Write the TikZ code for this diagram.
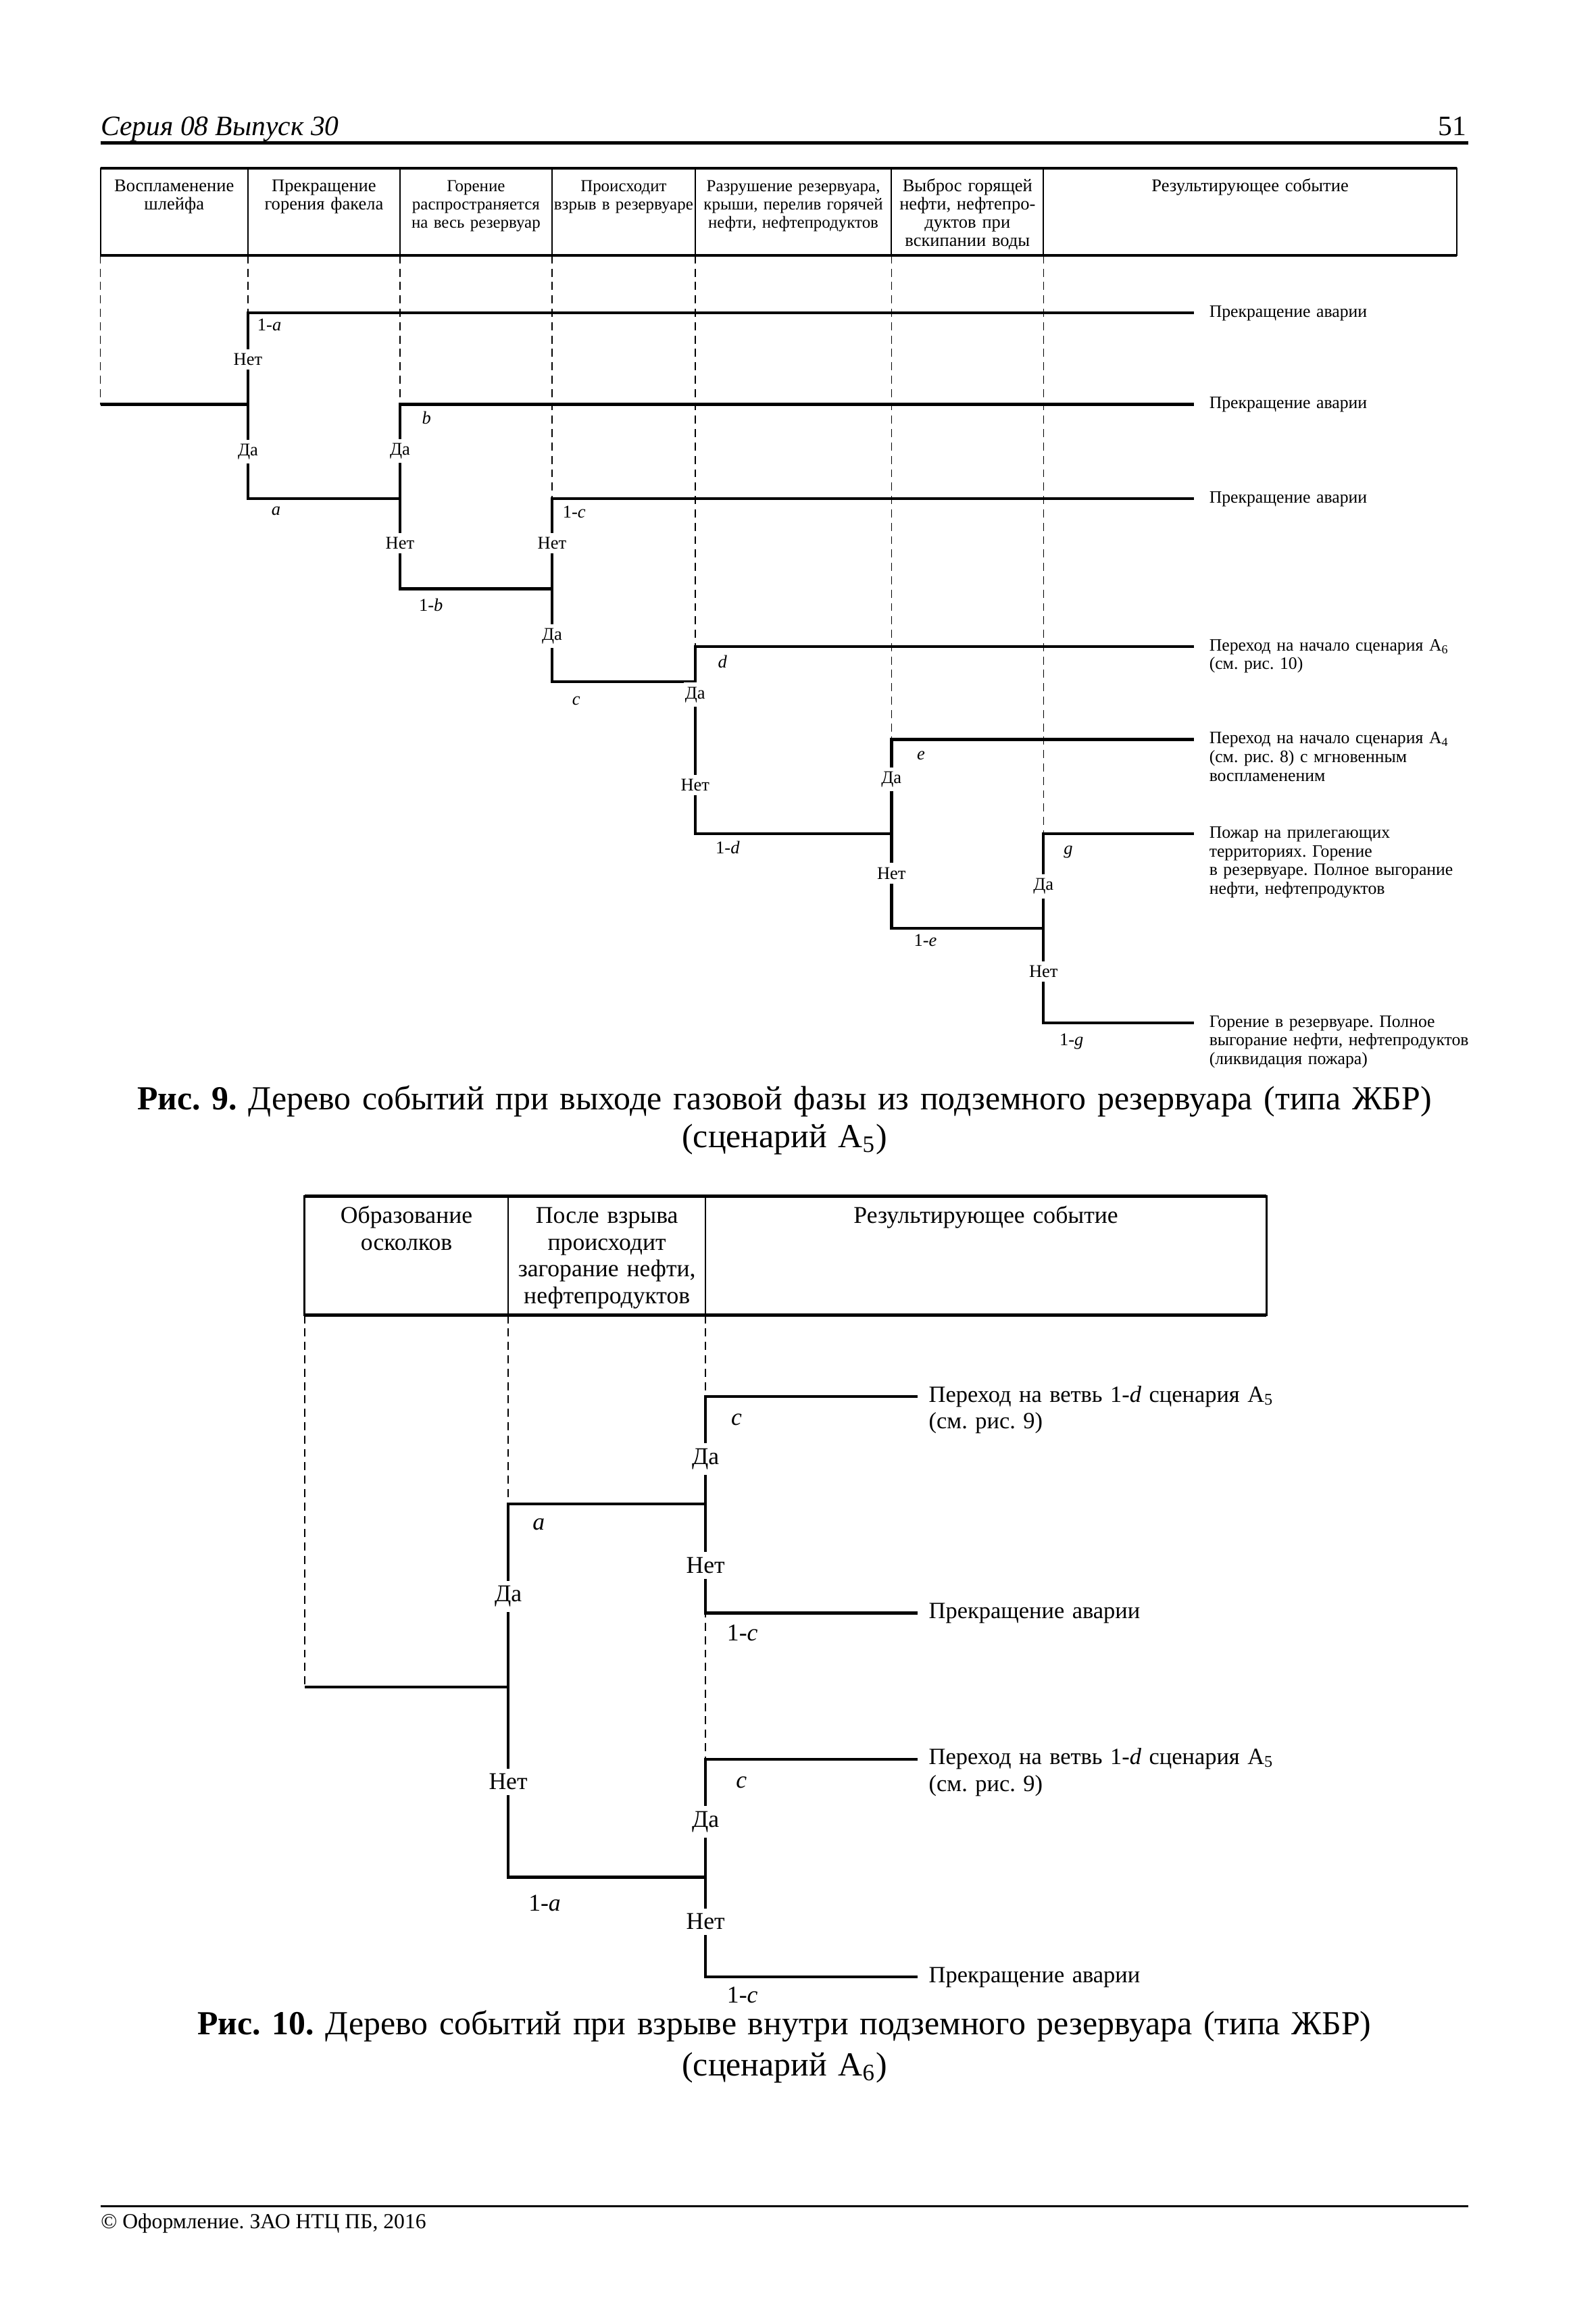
\documentclass[tikz,border=0pt]{standalone}
\usepackage{fontspec}
\setmainfont{Liberation Serif}
\usetikzlibrary{positioning}

\newcommand\figIXfont{\fontsize{6.7}{6.8}\selectfont}
\newcommand\figIXnarrow{\fontsize{6.3}{6.8}\selectfont}
\newcommand\figIXres{\fontsize{6.5}{7}\selectfont}
\newcommand\figXfont{\fontsize{9}{10}\selectfont}
\newcommand\figXres{\fontsize{8.7}{10}\selectfont}

\begin{document}
\frenchspacing
\begin{tikzpicture}[
  x=0.0194cm, y=-0.0194cm,
  tree/.style={line width=1.1pt},
  guide/.style={line width=0.4pt, dash pattern=on 3pt off 2pt},
  cell/.style={line width=0.5pt},
  ans/.style={fill=white, inner xsep=0.6pt, inner ysep=1.6pt},
  prob/.style={inner sep=0pt},
  hd/.style={anchor=base, align=center, inner sep=0pt, text width=3cm},
  res/.style={anchor=base west, align=left, inner sep=0pt, text width=5cm}
]
  \useasboundingbox (0,0) rectangle (1081,1568);

  % Running head
  \node[anchor=base west, inner sep=0pt, font=\fontsize{10.5}{12}\selectfont\itshape] (series) at (68,92) {Серия 08 Выпуск 30};
  \node[anchor=base east, inner sep=0pt, font=\fontsize{10.5}{12}\selectfont] (pageno) at (994,92) {51};
  \draw[line width=1.3pt] (68,97) -- (995,97);

  % ---------------- Fig. 9 ----------------
  \begin{scope}[font=\figIXfont]
  % header table
  \draw[cell] (68,114) rectangle (987,173);
  \draw[line width=1.1pt] (68,114) -- (987,114) (68,173) -- (987,173);
  \foreach \x in {168,271,374,471,604,707}
    \draw[cell] (\x,114) -- (\x,173);
  \node[hd] (h1) at (118,130) {Воспламенение\\шлейфа};
  \node[hd] (h2) at (219.5,130) {Прекращение\\горения факела};
  \node[hd, font=\figIXnarrow] (h3) at (322.5,130) {Горение\\распространяется\\на весь резервуар};
  \node[hd, font=\figIXnarrow] (h4) at (422.5,130) {Происходит\\взрыв в резервуаре};
  \node[hd, font=\figIXnarrow] (h5) at (537.5,130) {Разрушение резервуара,\\крыши, перелив горячей\\нефти, нефтепродуктов};
  \node[hd] (h6) at (655.5,130) {Выброс горящей\\нефти, нефтепро-\\дуктов при\\вскипании воды};
  \node[hd] (h7) at (847,130) {Результирующее событие};

  % branch points
  \coordinate (r9) at (68,274);
  \coordinate (A-t) at (168,212); \coordinate (A-b) at (168,338);
  \coordinate (B-t) at (271,274); \coordinate (B-b) at (271,399);
  \coordinate (C-t) at (374,338); \coordinate (C-b) at (374,462);
  \coordinate (D-t) at (471,438); \coordinate (D-b) at (471,565);
  \coordinate (E-t) at (604,501); \coordinate (E-b) at (604,629);
  \coordinate (G-t) at (707,565); \coordinate (G-b) at (707,693);
  \coordinate (end9) at (809,0);

  % guide lines
  \foreach \x/\y in {68/274,168/212,271/274,374/338,471/438,604/501,707/565}
    \draw[guide] (\x,173) -- (\x,\y);

  % tree
  \draw[tree] (r9) -- (A-t |- r9);
  \draw[tree] (A-t -| end9) -- (A-t) -- (A-b) -- (B-t |- A-b);
  \draw[tree] (B-t -| end9) -- (B-t) -- (B-b) -- (C-t |- B-b);
  \draw[tree] (C-t -| end9) -- (C-t) -- (C-b) -- (D-t |- C-b);
  \draw[tree] (D-t -| end9) -- (D-t) -- (D-b) -- (E-t |- D-b);
  \draw[tree] (E-t -| end9) -- (E-t) -- (E-b) -- (G-t |- E-b);
  \draw[tree] (G-t -| end9) -- (G-t) -- (G-b) -- (G-b -| end9);

  % yes / no
  \node[ans] (A-no) at (168,243.6) {Нет};
  \node[ans] (A-yes) at (168,306) {Да};
  \node[ans] (B-yes) at (271,305.6) {Да};
  \node[ans] (B-no) at (271,368) {Нет};
  \node[ans] (C-no) at (374,368) {Нет};
  \node[ans] (C-yes) at (374,431) {Да};
  \node[ans] (D-yes) at (471,470.7) {Да};
  \node[ans] (D-no) at (471,532) {Нет};
  \node[ans] (E-yes) at (604,528) {Да};
  \node[ans] (E-no) at (604,591.7) {Нет};
  \node[ans] (G-yes) at (707,600.5) {Да};
  \node[ans] (G-no) at (707,658.3) {Нет};

  % probabilities
  \node[prob] (pa1) at (182.5,220) {1-\textit{a}};
  \node[prob] (pa) at (187,346.5) {\textit{a}};
  \node[prob] (pb) at (289,283) {\textit{b}};
  \node[prob] (pb1) at (292,410) {1-\textit{b}};
  \node[prob] (pc1) at (389,347) {1-\textit{c}};
  \node[prob] (pc) at (390.4,474.8) {\textit{c}};
  \node[prob] (pd) at (489.5,448.6) {\textit{d}};
  \node[prob] (pd1) at (493,574.4) {1-\textit{d}};
  \node[prob] (pe) at (624,512) {\textit{e}};
  \node[prob] (pe1) at (627,637.3) {1-\textit{e}};
  \node[prob] (pg) at (723.8,577.4) {\textit{g}};
  \node[prob] (pg1) at (726,705.6) {1-\textit{g}};

  % outcomes
  \begin{scope}[font=\figIXres]
  \node[res] (o1) at (819,214.9) {Прекращение аварии};
  \node[res] (o2) at (819,276.9) {Прекращение аварии};
  \node[res] (o3) at (819,340.9) {Прекращение аварии};
  \node[res] (o4) at (819,440.9) {Переход на начало сценария A\textsubscript{6}\\(см. рис. 10)};
  \node[res] (o5) at (819,503.9) {Переход на начало сценария A\textsubscript{4}\\(см. рис. 8) с мгновенным\\воспламененим};
  \node[res] (o6) at (819,567.9) {Пожар на прилегающих\\территориях. Горение\\в резервуаре. Полное выгорание\\нефти, нефтепродуктов};
  \node[res] (o7) at (819,695.9) {Горение в резервуаре. Полное\\выгорание нефти, нефтепродуктов\\(ликвидация пожара)};
  \end{scope}
  \end{scope}

  \node[anchor=base, align=center, inner sep=0pt, text width=20cm, font=\fontsize{12.6}{14.2}\selectfont] (cap9) at (531.5,752)
    {\textbf{Рис. 9.} Дерево событий при выходе газовой фазы из подземного резервуара (типа ЖБР)\\(сценарий A\textsubscript{5})};

  % ---------------- Fig. 10 ----------------
  \begin{scope}[font=\figXfont]
  \draw[line width=0.8pt] (206.4,810.4) rectangle (858,891.2);
  \draw[line width=1.2pt] (206.4,810.4) -- (858,810.4) (206.4,891.2) -- (858,891.2);
  \foreach \x in {344.3,478}
    \draw[cell] (\x,810.4) -- (\x,891.2);
  \node[hd] (k1) at (275.4,829) {Образование\\осколков};
  \node[hd] (k2) at (411.2,829) {После взрыва\\происходит\\загорание нефти,\\нефтепродуктов};
  \node[hd, text width=6cm] (k3) at (668,829) {Результирующее событие};

  \coordinate (r10) at (206.4,1143);
  \coordinate (P-t) at (344.3,1019); \coordinate (P-b) at (344.3,1272);
  \coordinate (Q-t) at (478,946.4); \coordinate (Q-b) at (478,1093);
  \coordinate (S-t) at (478,1192); \coordinate (S-b) at (478,1339.6);
  \coordinate (end10) at (621.5,0);

  % guide lines
  \foreach \x/\y in {206.4/1143,344.3/1019,478/1192}
    \draw[guide] (\x,891.2) -- (\x,\y);

  % tree
  \draw[tree] (r10) -- (P-t |- r10);
  \draw[tree] (P-b -| S-t) -- (P-b) -- (P-t) -- (P-t -| Q-t);
  \draw[tree] (Q-t -| end10) -- (Q-t) -- (Q-b) -- (Q-b -| end10);
  \draw[tree] (S-t -| end10) -- (S-t) -- (S-b) -- (S-b -| end10);

  \node[ans, inner ysep=2pt] (P-yes) at (344.3,1081.8) {Да};
  \node[ans, inner ysep=2pt] (P-no) at (344.3,1207.4) {Нет};
  \node[ans, inner ysep=2pt] (Q-yes) at (478,988.5) {Да};
  \node[ans, inner ysep=2pt] (Q-no) at (478,1060.8) {Нет};
  \node[ans, inner ysep=2pt] (S-yes) at (478,1234.5) {Да};
  \node[ans, inner ysep=2pt] (S-no) at (478,1302.2) {Нет};

  \node[prob] (qa) at (365,1032.8) {\textit{a}};
  \node[prob] (qa1) at (369,1289.7) {1-\textit{a}};
  \node[prob] (qc) at (499,961.9) {\textit{c}};
  \node[prob] (qc1) at (503,1106.7) {1-\textit{c}};
  \node[prob] (sc) at (502.4,1208) {\textit{c}};
  \node[prob] (sc1) at (503,1351.7) {1-\textit{c}};

  \begin{scope}[font=\figXres]
  \node[res, text width=7cm] (u1) at (629,950) {Переход на ветвь 1-\textit{d} сценария A\textsubscript{5}\\(см. рис. 9)};
  \node[res, text width=7cm] (u2) at (629,1096.6) {Прекращение аварии};
  \node[res, text width=7cm] (u3) at (629,1195.6) {Переход на ветвь 1-\textit{d} сценария A\textsubscript{5}\\(см. рис. 9)};
  \node[res, text width=7cm] (u4) at (629,1343.2) {Прекращение аварии};
  \end{scope}
  \end{scope}

  \node[anchor=base, align=center, inner sep=0pt, text width=20cm, font=\fontsize{12.6}{15.4}\selectfont] (cap10) at (531.5,1378.5)
    {\textbf{Рис. 10.} Дерево событий при взрыве внутри подземного резервуара (типа ЖБР)\\(сценарий A\textsubscript{6})};

  % footer
  \draw[line width=0.6pt] (68,1495) -- (995,1495);
  \node[anchor=base west, inner sep=0pt, font=\fontsize{8}{9.6}\selectfont] (foot) at (68,1510) {© Оформление. ЗАО НТЦ ПБ, 2016};
\end{tikzpicture}
\end{document}
